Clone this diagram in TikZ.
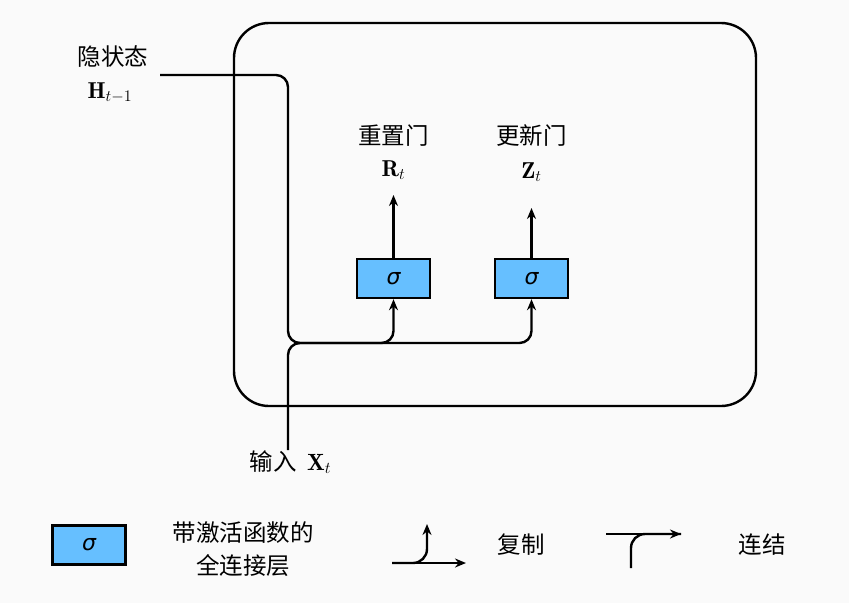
\RequirePackage{fix-cm}
\documentclass[tikz,border=0pt]{standalone}
\usepackage{fontspec}
\newfontfamily\cjk{Noto Sans CJK SC}
\newfontfamily\dvs{DejaVu Sans}
\usetikzlibrary{arrows.meta}
\definecolor{gateblue}{HTML}{66BFFF}
\definecolor{bgray}{HTML}{FAFAFA}

\begin{document}
\begin{tikzpicture}
	[
	x=1pt, y=-1pt,
	fc/.style={draw = black, fill = gateblue, line width = 2.4pt, minimum width = 73pt, minimum height = 39pt, font=\dvs\itshape\fontsize{22}{26}\selectfont},
	txt/.style={font=\cjk\fontsize{23.5}{33}\selectfont, align=center},
	sym/.style={font=\fontsize{23}{28}\selectfont},
	wire/.style={line width = 2.4pt},
	flow/.style={line width = 2.4pt, -{Stealth[length=11pt, width=9pt]}}
	]
	\path[use as bounding box, fill = bgray] (0,0) rectangle (849,603);
	
	% Cell and gates
	\node[draw, line width = 2.4pt, rounded corners = 35pt, minimum width = 522pt, minimum height = 383pt](cell) at (495,214.5){};
	\node[fc](rg) at (393.5,278.5){σ};
	\node[fc](zg) at (531.5,278.5){σ};
	\coordinate (rout) at (393.5,195);
	\coordinate (zout) at (531.5,208);
	\node[txt](rlab) at (393.5,136){重置门};
	\node[sym](rsym) at (393.5,170){$\mathbf{R}_t$};
	\node[txt](zlab) at (531.5,136){更新门};
	\node[sym](zsym) at (531.5,172){$\mathbf{Z}_t$};
	
	% Inputs
	\node[txt](hlab) at (113,57){隐状态};
	\node[sym](hsym) at (110,93){$\mathbf{H}_{t-1}$};
	\node[txt, anchor=west](xlab) at (246,462){输入\ \ $\mathbf{X}_t$};
	\coordinate (hin) at (160,75);
	\coordinate (xin) at (288,450);
	\coordinate (jn) at (288,343);
	
	\draw[flow, rounded corners = 12pt] (hin) -| (jn) -| (rg.south);
	\draw[flow, rounded corners = 12pt] (xin) -- (jn) -| (zg.south);
	\draw[flow] (rg.north) -- (rout);
	\draw[flow] (zg.north) -- (zout);
	
	% Legend
	\node[fc](lbox) at (89,545){σ};
	\node[txt](ltxt) at (243,549){带激活函数的\\全连接层};
	\coordinate (c1) at (392,563);
	\coordinate (c2) at (466,563);
	\coordinate (c3) at (427,524);
	\node[txt](clab) at (521,545){复制};
	\coordinate (k1) at (606,534);
	\coordinate (k2) at (681,534);
	\coordinate (k3) at (631,568);
	\node[txt](klab) at (762,545){连结};
	
	\draw[flow] (c1) -- (c2);
	\draw[flow, rounded corners = 14pt] (c1) -| (c3);
	\draw[flow] (k1) -- (k2);
	\draw[wire, rounded corners = 14pt] (k3) |- (k2);
\end{tikzpicture}
\end{document}
